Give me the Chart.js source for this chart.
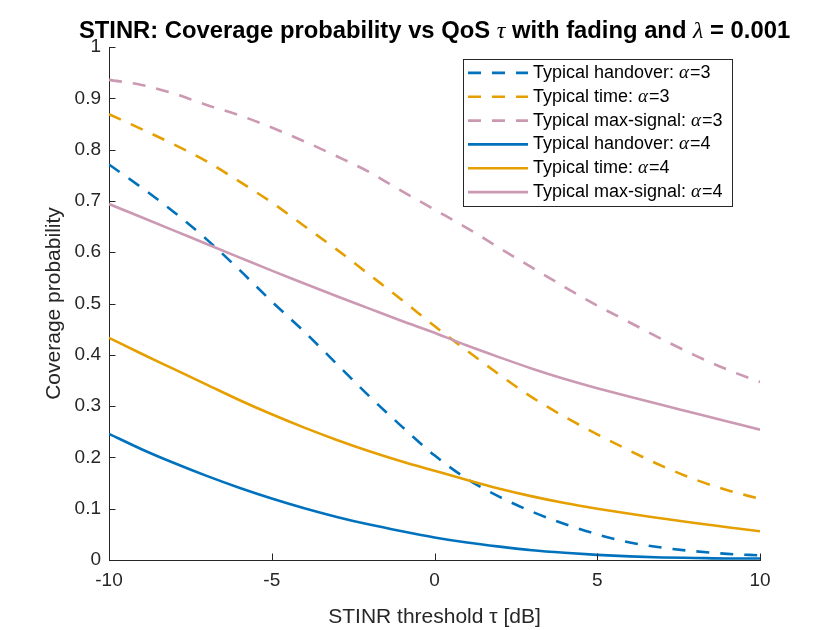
<!DOCTYPE html>
<html>
<head>
<meta charset="utf-8">
<script src="https://cdn.jsdelivr.net/npm/chart.js@4.4.1/dist/chart.umd.min.js"></script>
<style>
  html, body { margin: 0; padding: 0; background: #ffffff; }
  #wrap { width: 840px; height: 630px; }
</style>
</head>
<body>
<div id="wrap"><canvas id="c" width="840" height="630"></canvas></div>
<script>
// ---- data ----
const tauDb = [-10, -9, -8, -7, -6, -5, -4, -3, -2, -1, 0, 1, 2, 3, 4, 5, 6, 7, 8, 9, 10];

const handoverA3  = [0.771, 0.726, 0.678, 0.625, 0.566, 0.504, 0.445, 0.382, 0.319, 0.260, 0.204, 0.158, 0.123, 0.094, 0.070, 0.050, 0.034, 0.024, 0.017, 0.012, 0.009];
const timeA3      = [0.869, 0.840, 0.810, 0.777, 0.738, 0.697, 0.651, 0.605, 0.556, 0.507, 0.456, 0.408, 0.361, 0.317, 0.279, 0.245, 0.213, 0.183, 0.157, 0.136, 0.119];
const maxSignalA3 = [0.936, 0.926, 0.909, 0.887, 0.867, 0.843, 0.816, 0.787, 0.756, 0.719, 0.683, 0.647, 0.608, 0.570, 0.532, 0.496, 0.463, 0.430, 0.399, 0.371, 0.347];
const handoverA4  = [0.246, 0.216, 0.189, 0.164, 0.141, 0.120, 0.101, 0.084, 0.069, 0.056, 0.044, 0.034, 0.026, 0.019, 0.014, 0.010, 0.007, 0.005, 0.004, 0.003, 0.003];
const timeA4      = [0.433, 0.402, 0.372, 0.342, 0.312, 0.284, 0.258, 0.234, 0.212, 0.192, 0.174, 0.156, 0.139, 0.124, 0.111, 0.100, 0.090, 0.081, 0.072, 0.064, 0.056];
const maxSignalA4 = [0.694, 0.668, 0.642, 0.616, 0.590, 0.564, 0.539, 0.514, 0.490, 0.466, 0.443, 0.418, 0.395, 0.373, 0.353, 0.335, 0.318, 0.302, 0.286, 0.270, 0.254];

const legendNames = ['Typical handover: ', 'Typical time: ', 'Typical max-signal: ',
                     'Typical handover: ', 'Typical time: ', 'Typical max-signal: '];
const legendAlphas = ['3', '3', '3', '4', '4', '4'];
const xTicks = [-10, -5, 0, 5, 10];
const yTicks = [0, 0.1, 0.2, 0.3, 0.4, 0.5, 0.6, 0.7, 0.8, 0.9, 1];
const yTickLabels = ['0', '0.1', '0.2', '0.3', '0.4', '0.5', '0.6', '0.7', '0.8', '0.9', '1'];
const titleParts = [
  ['STINR: Coverage probability vs QoS ', 'b'],
  ['τ', 'm'],
  [' with fading and ', 'b'],
  ['λ', 'm'],
  [' = 0.001', 'b']
];

// ---- styles ----
const BLUE = '#0072BD', ORANGE = '#E69F00', PINK = '#CC99B3';
const AXIS = '#262626';
const FONT = "'Liberation Sans', Arial, Helvetica, sans-serif";
const MATH = "'Liberation Serif', 'DejaVu Serif', serif";
const DASH = [13, 11];

const seriesList = [handoverA3, timeA3, maxSignalA3, handoverA4, timeA4, maxSignalA4];
const colors = [BLUE, ORANGE, PINK, BLUE, ORANGE, PINK];
const dashes = [DASH, DASH, DASH, [], [], []];

const datasets = seriesList.map((ys, i) => ({
  label: legendNames[i] + 'α=' + legendAlphas[i],
  data: tauDb.map((x, k) => ({ x: x, y: ys[k] })),
  borderColor: colors[i],
  backgroundColor: colors[i],
  borderWidth: 2.6,
  borderDash: dashes[i],
  pointRadius: 0,
  fill: false,
  cubicInterpolationMode: 'monotone',
  order: 6 - i
}));

// inward ticks like MATLAB
const inwardTicks = {
  id: 'inwardTicks',
  afterDatasetsDraw(chart) {
    const { ctx, chartArea: a, scales } = chart;
    ctx.save();
    ctx.strokeStyle = AXIS;
    ctx.lineWidth = 1;
    ctx.beginPath();
    scales.x.ticks.forEach(t => {
      const px = Math.round(scales.x.getPixelForValue(t.value)) + 0.5;
      ctx.moveTo(px, a.bottom);
      ctx.lineTo(px, a.bottom - 6.5);
    });
    scales.y.ticks.forEach(t => {
      const py = Math.round(scales.y.getPixelForValue(t.value)) + 0.5;
      ctx.moveTo(a.left, py);
      ctx.lineTo(a.left + 6.5, py);
    });
    ctx.stroke();
    ctx.restore();
  }
};

// title with italic Greek letters, centred over the axes
const mixedTitle = {
  id: 'mixedTitle',
  afterDraw(chart) {
    const { ctx, chartArea: a } = chart;
    ctx.save();
    const fontOf = k => k === 'b' ? "bold 23.8px " + FONT : "italic 24px " + MATH;
    let total = 0;
    titleParts.forEach(([s, k]) => { ctx.font = fontOf(k); total += ctx.measureText(s).width; });
    let x = (a.left + a.right) / 2 - total / 2;
    ctx.fillStyle = '#000000';
    ctx.textBaseline = 'alphabetic';
    ctx.textAlign = 'left';
    titleParts.forEach(([s, k]) => {
      ctx.font = fontOf(k);
      ctx.fillText(s, x, 38);
      x += ctx.measureText(s).width;
    });
    ctx.restore();
  }
};

// MATLAB-style legend box in the upper right
const boxLegend = {
  id: 'boxLegend',
  afterDraw(chart) {
    const { ctx } = chart;
    const L = 463, T = 59, R = 732, B = 206;
    ctx.save();
    ctx.fillStyle = '#ffffff';
    ctx.fillRect(L, T, R - L, B - T);
    ctx.strokeStyle = AXIS;
    ctx.lineWidth = 1;
    ctx.strokeRect(L + 0.5, T + 0.5, R - L, B - T);
    const rowH = (B - T - 4) / 6;
    chart.data.datasets.forEach((ds, i) => {
      const yc = T + 2 + rowH * (i + 0.5);
      ctx.strokeStyle = ds.borderColor;
      ctx.lineWidth = ds.borderWidth;
      ctx.setLineDash(ds.borderDash || []);
      ctx.beginPath();
      ctx.moveTo(468, yc);
      ctx.lineTo(528, yc);
      ctx.stroke();
      ctx.setLineDash([]);
      ctx.fillStyle = '#000000';
      ctx.textBaseline = 'middle';
      ctx.textAlign = 'left';
      let x = 533;
      ctx.font = "18px " + FONT;
      ctx.fillText(legendNames[i], x, yc);
      x += ctx.measureText(legendNames[i]).width;
      ctx.font = "italic 19px " + MATH;
      ctx.fillText('α', x, yc);
      x += ctx.measureText('α').width + 1;
      ctx.font = "18px " + FONT;
      ctx.fillText('=' + legendAlphas[i], x, yc);
    });
    ctx.restore();
  }
};

new Chart(document.getElementById('c'), {
  type: 'line',
  data: { datasets: datasets },
  plugins: [inwardTicks, mixedTitle, boxLegend],
  options: {
    responsive: false,
    devicePixelRatio: 1,
    animation: false,
    layout: { padding: { left: 0, right: 80, top: 47, bottom: 0 } },
    plugins: {
      legend: { display: false },
      tooltip: { enabled: false },
      title: { display: false }
    },
    scales: {
      x: {
        type: 'linear',
        min: -10, max: 10,
        afterBuildTicks(scale) { scale.ticks = xTicks.map(v => ({ value: v })); },
        afterFit(scale) { scale.height = 70; },
        grid: { display: false, drawTicks: false },
        border: { display: true, color: AXIS, width: 1 },
        ticks: { color: AXIS, font: { family: FONT, size: 19 }, padding: 9, maxRotation: 0,
                 callback: (v) => String(v) },
        title: {
          display: true,
          text: 'STINR threshold τ [dB]',
          color: AXIS,
          font: { family: FONT, size: 21 },
          padding: { top: 3, bottom: 0 }
        }
      },
      y: {
        type: 'linear',
        min: 0, max: 1,
        afterBuildTicks(scale) { scale.ticks = yTicks.map(v => ({ value: v })); },
        afterFit(scale) { scale.width = 109; },
        grid: { display: false, drawTicks: false },
        border: { display: true, color: AXIS, width: 1 },
        ticks: { color: AXIS, font: { family: FONT, size: 19 }, padding: 8,
                 callback: (v, i) => yTickLabels[i] },
        title: {
          display: true,
          text: 'Coverage probability',
          color: AXIS,
          font: { family: FONT, size: 21 },
          padding: { top: 42, bottom: 0 }
        }
      }
    }
  }
});
</script>
</body>
</html>
